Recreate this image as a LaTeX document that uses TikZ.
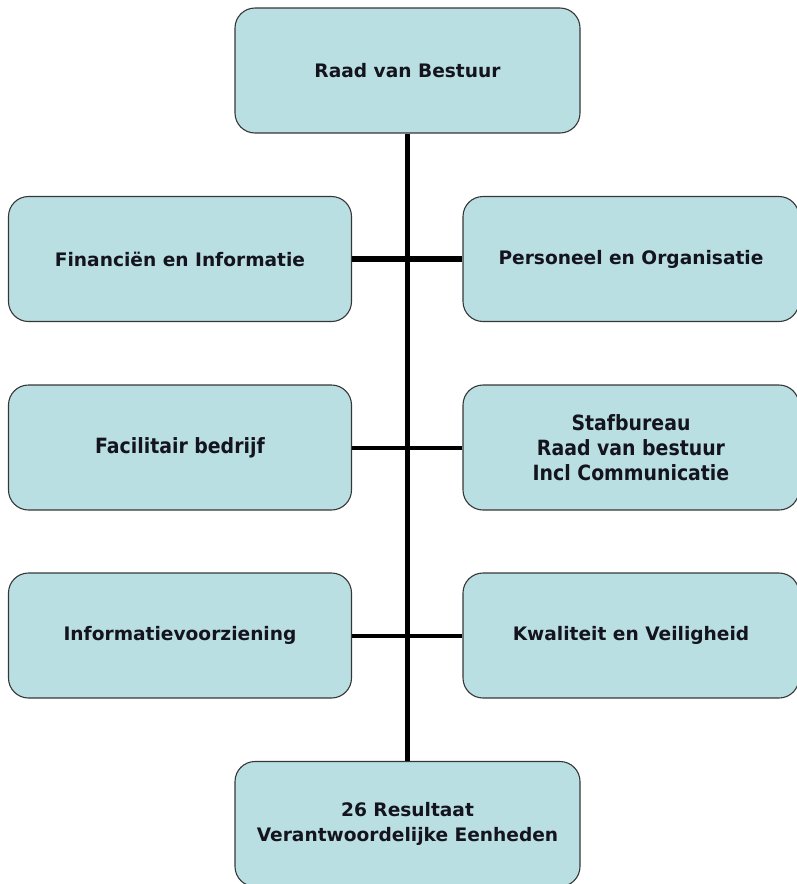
\documentclass[tikz,border=0pt]{standalone}
\usepackage{fontspec}
\setmainfont{DejaVu Sans}
\newfontfamily\narrowfont{DejaVu Sans Condensed}
\definecolor{boxfill}{RGB}{186,223,227}
\definecolor{boxline}{RGB}{55,55,55}
\definecolor{textcol}{RGB}{20,20,30}
\begin{document}
\begin{tikzpicture}[x=1pt,y=-1pt,
  unit/.style={draw=boxline, line width=1.1pt, fill=boxfill, rounded corners=20pt,
    minimum width=#1, minimum height=125pt, inner sep=0pt, align=center,
    font=\bfseries\fontsize{18.6}{25}\selectfont, text=textcol},
  unit/.default=343pt,
  narrow/.style={font=\narrowfont\bfseries\fontsize{21}{25}\selectfont},
  thickline/.style={line width=5.5pt},
  thinline/.style={line width=4pt}]
\useasboundingbox (0,0) rectangle (797,884);
\begin{scope}
\clip (0,0) rectangle (797,884);
% top and bottom
\node[unit=345pt] (rvb) at (407.5,70.5) {Raad van Bestuur};
\node[unit=345pt, minimum height=125pt] (rve) at (407.5,824) {26 Resultaat\\Verantwoordelijke Eenheden};
% row 1
\node[unit] (fin) at (180,259) {Financiën en Informatie};
\node[unit=336pt] (pen) at (631,259) {Personeel en Organisatie};
% row 2
\node[unit, narrow] (fac) at (180,447.5) {Facilitair bedrijf};
\node[unit=336pt, narrow] (staf) at (631,447.5) {Stafbureau\\Raad van bestuur\\Incl Communicatie};
% row 3
\node[unit] (inf) at (180,635.5) {Informatievoorziening};
\node[unit=336pt] (kwa) at (631,635.5) {Kwaliteit en Veiligheid};
\end{scope}
% connectors
\draw[thickline] (rvb.south) -- (rve.north);
\draw[thickline] (fin.east) -- (pen.west);
\draw[thinline] (fac.east) -- (staf.west);
\draw[thinline] (inf.east) -- (kwa.west);
\end{tikzpicture}
\end{document}
